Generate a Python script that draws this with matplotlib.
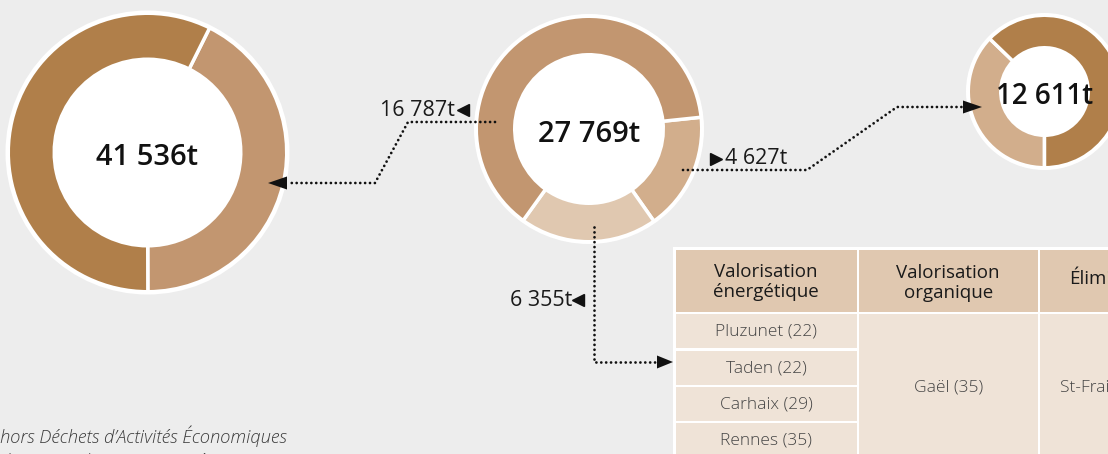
import matplotlib
matplotlib.use("Agg")
import matplotlib.pyplot as plt
from matplotlib.patches import Circle, Rectangle, Polygon

plt.rcParams['font.family'] = ['Open Sans', 'DejaVu Sans']

# ---------------- data ----------------
totals = [41536, 27769, 12611]
donut1_shares = [42.6, 57.4]          # light, dark
donut2_shares = [16.9, 19.7, 63.4]    # medium, light, dark
donut3_shares = [37.2, 62.8]          # light, dark
flow_values = [16787, 4627, 6355]

table_headers = ["Valorisation\nénergétique", "Valorisation\norganique", "Élimination"]
energy_sites = ["Pluzunet (22)", "Taden (22)", "Carhaix (29)", "Rennes (35)"]
organic_site = "Gaël (35)"
elim_site = "St-Fraimbault (35)"
footnote = ["hors Déchets d\u2019Activités Économiques", "des particuliers toutes catégories"]

# ---------------- style ----------------
W, H = 1108, 454
BG = "#ededed"
C_DARK = "#b07f4a"
C_MID = "#c29670"
C_MED = "#d2ae8c"
C_LIGHT = "#e0c8b0"
C_CELL = "#efe3d7"


def fmt(v):
    return f"{v:,}".replace(",", " ") + "t"


fig = plt.figure(figsize=(W / 100, H / 100), dpi=100, facecolor=BG)
ax = fig.add_axes([0, 0, 1, 1])
ax.set_facecolor(BG)


def Y(y):
    return H - y


def donut(cx, cy, outer, inner, white, shares, colors, start_clock, label, fs):
    ax.add_patch(Circle((cx, Y(cy)), white, facecolor="white", edgecolor="none", zorder=1))
    lw = 2.5
    pad = lw * 100 / 72 / 2
    ax.pie(shares, colors=colors, startangle=90 - start_clock, counterclock=False,
           center=(cx, Y(cy)), radius=outer + pad, frame=True,
           wedgeprops=dict(width=outer - inner + 2 * pad, edgecolor="white", linewidth=lw, zorder=2))
    ax.text(cx, Y(cy + 5), label, ha="center", va="center", fontsize=fs,
            fontweight="semibold", color="#111111", zorder=5)


donut(147.5, 152.5, 137.5, 95, 142, donut1_shares, [C_MID, C_DARK], 26.5, fmt(totals[0]), 21)
donut(589, 129, 111, 76, 115, donut2_shares, [C_MED, C_LIGHT, C_MID], 84, fmt(totals[1]), 21)
donut(1044.5, 91.5, 74.5, 45.5, 78.5, donut3_shares, [C_MED, C_DARK], 180, fmt(totals[2]), 20)

# ---------------- flows ----------------
dot = dict(color="#111111", linewidth=2.0, linestyle=(0, (0.01, 1.75)),
           dash_capstyle="round", solid_capstyle="round", zorder=4)


def path(pts):
    ax.plot([p[0] for p in pts], [Y(p[1]) for p in pts], **dot)


def head(tx, ty, direction, length=19, half=6.5):
    bx = tx - direction * length
    ax.add_patch(Polygon([(tx, Y(ty)), (bx, Y(ty - half)), (bx, Y(ty + half))],
                         closed=True, facecolor="#111111", edgecolor="none", zorder=4))


path([(495, 122), (408, 122), (375, 183), (288, 183)])
head(268, 183, -1)
path([(683, 170), (807, 170), (897, 107), (962, 107)])
head(982, 107, 1)
path([(594, 227), (594, 362), (656, 362)])
head(673, 362, 1, length=16)

lab = dict(fontsize=15.5, color="#1a1a1a", va="center", zorder=5)
ax.text(455, Y(111), fmt(flow_values[0]), ha="right", **lab)
ax.plot([462.5], [Y(110)], marker="<", markersize=8, color="#111111", zorder=5)
ax.plot([716], [Y(159)], marker=">", markersize=8, color="#111111", zorder=5)
ax.text(725, Y(159), fmt(flow_values[1]), ha="left", **lab)
ax.text(572, Y(301), fmt(flow_values[2]), ha="right", **lab)
ax.plot([578], [Y(300)], marker="<", markersize=8, color="#111111", zorder=5)

# ---------------- table ----------------
ax.add_patch(Rectangle((673, Y(H + 10)), 500, H + 10 - 247, facecolor="white", edgecolor="none", zorder=1))
cols = [(676, 856.5), (859, 1037.5), (1040, 1220)]
hdr_top, hdr_bot = 250, 312
for (x0, x1), txt in zip(cols, table_headers):
    ax.add_patch(Rectangle((x0, Y(hdr_bot)), x1 - x0, hdr_bot - hdr_top, facecolor=C_LIGHT,
                           edgecolor="none", zorder=2))
hdr_txt = dict(fontsize=13.5, color="#1a1a1a", va="center", linespacing=1.1, zorder=5)
ax.text((cols[0][0] + cols[0][1]) / 2, Y(282), table_headers[0], ha="center", **hdr_txt)
ax.text((cols[1][0] + cols[1][1]) / 2, Y(283), table_headers[1], ha="center", **hdr_txt)
ax.text(1069, Y(279), table_headers[2], ha="left", **hdr_txt)

row_tops = [314, 350.5, 386.5, 422.5]
row_h = 34
body_txt = dict(fontsize=12.5, color="#454545", va="center", fontweight="light", zorder=5)
for top, name in zip(row_tops, energy_sites):
    ax.add_patch(Rectangle((cols[0][0], Y(top + row_h)), cols[0][1] - cols[0][0], row_h,
                           facecolor=C_CELL, edgecolor="none", zorder=2))
    ax.text((cols[0][0] + cols[0][1]) / 2, Y(top + row_h / 2 + 1), name, ha="center", **body_txt)
for (x0, x1) in cols[1:]:
    ax.add_patch(Rectangle((x0, Y(H + 10)), x1 - x0, H + 10 - 314, facecolor=C_CELL,
                           edgecolor="none", zorder=2))
ax.text((cols[1][0] + cols[1][1]) / 2, Y(388), organic_site, ha="center", **body_txt)
ax.text(1060, Y(388), elim_site, ha="left", **body_txt)

# ---------------- footnote ----------------
ax.text(0, Y(436), footnote[0], ha="left", va="center", fontsize=13.2, style="italic",
        color="#3a3a3a", fontweight="light", zorder=5)
ax.text(0, Y(462), footnote[1], ha="left", va="center", fontsize=13.2, style="italic",
        color="#3a3a3a", fontweight="light", zorder=5)

ax.set_xlim(0, W)
ax.set_ylim(0, H)
ax.set_aspect("auto")
ax.axis("off")
fig.savefig("out.png", dpi=100, facecolor=BG)
